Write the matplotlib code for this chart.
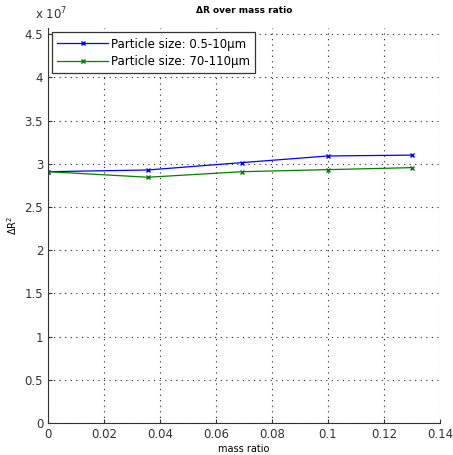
import matplotlib
matplotlib.use("Agg")
import matplotlib.pyplot as plt

mass_ratio = [0.0, 0.0357, 0.0692, 0.1, 0.13]
small_particles = [2.908, 2.928, 3.013, 3.09, 3.10]   # x 1e7
large_particles = [2.908, 2.844, 2.908, 2.932, 2.955]  # x 1e7
labels = ["Particle size: 0.5-10µm", "Particle size: 70-110µm"]
xticks = [0, 0.02, 0.04, 0.06, 0.08, 0.1, 0.12, 0.14]
xticklabels = ["0", "0.02", "0.04", "0.06", "0.08", "0.1", "0.12", "0.14"]
yticks = [0, 0.5, 1, 1.5, 2, 2.5, 3, 3.5, 4, 4.5]
yticklabels = ["0", "0.5", "1", "1.5", "2", "2.5", "3", "3.5", "4", "4.5"]

plt.rcParams['font.family'] = ['DejaVu Sans']
fig = plt.figure(figsize=(4.53, 4.55), dpi=100)
ax = fig.add_axes([0.106, 0.0703, 0.865, 0.868])

ax.plot(mass_ratio, small_particles, color='#0000ff', marker='x', markersize=3.5,
        linewidth=0.9, label=labels[0])
ax.plot(mass_ratio, large_particles, color='#008000', marker='x', markersize=3.5,
        linewidth=0.9, label=labels[1])

ax.set_xlim(0, 0.14)
ax.set_ylim(0, 4.57)
ax.set_xticks(xticks)
ax.set_xticklabels(xticklabels)
ax.set_yticks(yticks)
ax.set_yticklabels(yticklabels)
ax.tick_params(labelsize=8.5, direction='in', length=3, colors='#333333')
ax.grid(True, linestyle=(0, (1, 4)), color='#222222', linewidth=0.8)
for s in ['top', 'right']:
    ax.spines[s].set_visible(False)
for s in ['left', 'bottom']:
    ax.spines[s].set_color('#333333')

ax.set_xlabel("mass ratio", fontsize=7, labelpad=2)
ax.set_ylabel("ΔR$^2$", fontsize=7, labelpad=4)
ax.set_title("ΔR over mass ratio", fontsize=6.5, fontweight='bold', pad=11)
fig.text(0.078, 0.958, "x 10$^7$", fontsize=8.5, color='#333333')

leg = ax.legend(loc='upper left', fontsize=8.5, fancybox=False, framealpha=1,
                edgecolor='#333333', borderaxespad=0.35, handlelength=4.3,
                handletextpad=0.2, borderpad=0.45, labelspacing=0.35)
leg.get_frame().set_linewidth(0.9)

fig.savefig("out.png", dpi=100)
